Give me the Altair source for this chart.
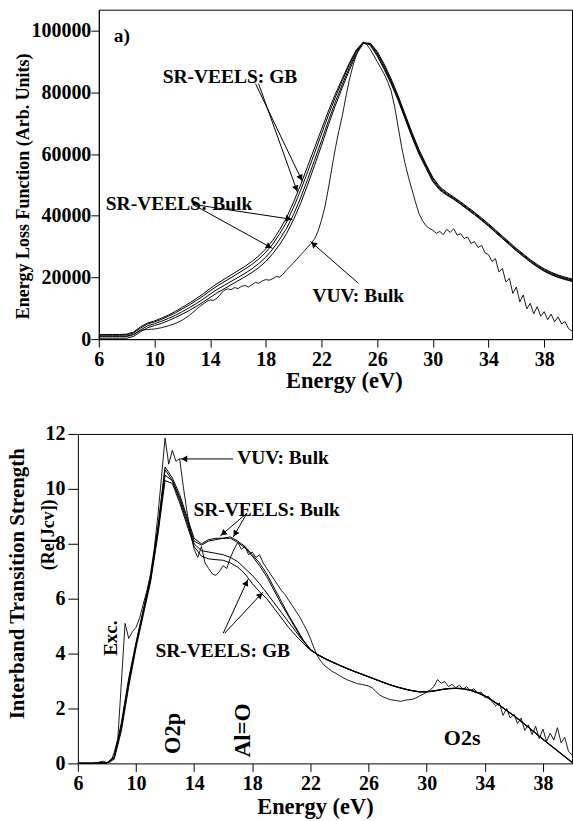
import math
import altair as alt
import pandas as pd

FONT = "Liberation Serif"

# ---------------- data ----------------
E_half = [6 + 0.5 * i for i in range(69)]        # 6 .. 40 eV
E_quarter = [6 + 0.25 * i for i in range(137)]   # 6 .. 40 eV

# (a) Energy loss function
elf_gb1 = [1500, 1500, 1500, 1500, 1600, 2300, 4000, 5200, 5900, 6800,
           7800, 9000, 10300, 11700, 13100, 14700, 16400, 18000, 19400, 20800,
           22200, 23600, 25200, 27000, 29300, 32000, 35500, 39500, 44500, 50000,
           56000, 62000, 68000, 74000, 79500, 84500, 89500, 93800, 96300, 95300,
           91800, 87500, 82800, 77500, 71500, 65500, 60000, 55500, 51000, 48300,
           46700, 45300, 43700, 42000, 40300, 38500, 36600, 34600, 32600, 30600,
           28600, 26800, 25000, 23400, 22000, 20900, 20000, 19300, 18700]
elf_gb2 = [1300, 1300, 1300, 1300, 1400, 2000, 3600, 4900, 5600, 6400,
           7400, 8500, 9800, 11100, 12500, 14000, 15700, 17200, 18600, 19900,
           21300, 22700, 24200, 26000, 28200, 30800, 34200, 38000, 42800, 48200,
           54200, 60300, 66500, 72700, 78500, 83800, 89000, 93500, 96200, 95500,
           92300, 88000, 83300, 78000, 72000, 66000, 60500, 56000, 51500, 48600,
           46900, 45500, 43900, 42200, 40500, 38700, 36800, 34800, 32800, 30800,
           28800, 27000, 25200, 23600, 22200, 21100, 20200, 19500, 18900]
elf_bulk1 = [1000, 1000, 1000, 1000, 1000, 1500, 3000, 4300, 5000, 5800,
             6700, 7700, 8900, 10200, 11500, 13000, 14600, 16100, 17400, 18700,
             20000, 21300, 22800, 24500, 26600, 29200, 32400, 36000, 40500, 45800,
             51800, 58000, 64300, 70800, 77000, 82600, 88000, 93000, 96000, 95800,
             92800, 88600, 83800, 78500, 72500, 66500, 61000, 56400, 52000, 49000,
             47200, 45800, 44200, 42500, 40800, 39000, 37100, 35100, 33100, 31100,
             29100, 27300, 25500, 23900, 22500, 21400, 20500, 19800, 19200]
elf_bulk2 = [300, 300, 300, 300, 300, 900, 2400, 3700, 4400, 5100,
             6000, 7000, 8100, 9300, 10600, 12000, 13500, 15000, 16300, 17600,
             18900, 20200, 21600, 23200, 25200, 27700, 30700, 34300, 38800, 44000,
             50000, 56300, 62800, 69500, 75800, 81600, 87200, 92400, 95800, 96000,
             93300, 89200, 84400, 79000, 73000, 67000, 61500, 56800, 52400, 49400,
             47600, 46100, 44500, 42800, 41100, 39300, 37400, 35400, 33400, 31400,
             29400, 27600, 25800, 24200, 22800, 21700, 20800, 20100, 19500]
elf_vuv = [800, 800, 800, 800, 800, 800, 800, 800,
           900, 1100, 1500, 2200, 2800, 3000, 3100, 3200,
           3300, 3500, 3700, 4000, 4300, 4700, 5100, 5600,
           6200, 6900, 7700, 8600, 9600, 10600, 11400, 12200,
           12700, 12600, 13300, 14600, 15800, 16300, 16000, 16700,
           16400, 17100, 17400, 16900, 17600, 18400, 18100, 18900,
           19300, 19100, 19600, 20300, 20100, 21100, 22500, 23600,
           24800, 26000, 27300, 28500, 29800, 31000, 32500, 35000,
           38500, 43000, 49000, 55500, 62000, 67500, 72500, 78500,
           84000, 88500, 92000, 94800, 96000, 95500, 94000, 92000,
           90000, 88000, 86000, 83500, 80500, 75500, 69000, 62500,
           57000, 52500, 48500, 44500, 40800, 38400, 36800, 35900,
           35300, 34300, 34900, 33900, 35600, 34600, 35800, 33700,
           34200, 32600, 33100, 31000, 31600, 29700, 30400, 28000,
           27400, 25200, 26100, 21800, 22900, 18500, 19700, 14800,
           16900, 12100, 14300, 9800, 11600, 8200, 10500, 7400,
           8900, 6300, 8100, 5600, 7200, 4900, 5700, 3400,
           2600]

# (b) Interband transition strength
its_bulk1 = [0, 0, 0, 0.02, 0.02, 0.25, 1.5, 3.1, 4.4, 5.6,
             6.8, 8.6, 10.8, 10.4, 9.8, 9.0, 8.2, 8.0, 8.15, 8.2,
             8.2, 8.25, 8.1, 7.9, 7.6, 7.3, 6.9, 6.4, 5.9, 5.4,
             4.95, 4.5, 4.15, 3.95, 3.8, 3.68, 3.57, 3.45, 3.35, 3.25,
             3.15, 3.05, 2.95, 2.85, 2.77, 2.7, 2.64, 2.6, 2.6, 2.63,
             2.68, 2.72, 2.73, 2.72, 2.67, 2.58, 2.46, 2.3, 2.12, 1.93,
             1.74, 1.53, 1.32, 1.1, 0.88, 0.67, 0.46, 0.25, 0.04]
its_bulk2 = [0, 0, 0, 0.02, 0.02, 0.22, 1.4, 3.0, 4.35, 5.55,
             6.7, 8.5, 10.7, 10.3, 9.7, 8.9, 8.1, 7.95, 8.1, 8.15,
             8.2, 8.2, 8.05, 7.85, 7.55, 7.2, 6.8, 6.3, 5.8, 5.35,
             4.9, 4.48, 4.15, 3.96, 3.82, 3.7, 3.58, 3.46, 3.36, 3.26,
             3.16, 3.06, 2.96, 2.86, 2.78, 2.71, 2.65, 2.61, 2.61, 2.64,
             2.69, 2.73, 2.74, 2.73, 2.68, 2.59, 2.47, 2.31, 2.13, 1.94,
             1.75, 1.54, 1.33, 1.11, 0.89, 0.68, 0.47, 0.26, 0.05]
its_gb1 = [0, 0, 0, 0.02, 0.02, 0.2, 1.3, 2.9, 4.3, 5.5,
           6.7, 8.4, 10.5, 10.3, 9.6, 8.8, 8.0, 7.75, 7.7, 7.65,
           7.6, 7.5, 7.35, 7.1, 6.85, 6.55, 6.2, 5.85, 5.5, 5.15,
           4.8, 4.45, 4.15, 3.97, 3.83, 3.7, 3.58, 3.47, 3.36, 3.26,
           3.16, 3.06, 2.96, 2.86, 2.78, 2.71, 2.65, 2.61, 2.61, 2.64,
           2.69, 2.72, 2.74, 2.72, 2.66, 2.57, 2.45, 2.29, 2.11, 1.92,
           1.73, 1.52, 1.31, 1.09, 0.87, 0.66, 0.45, 0.24, 0.03]
its_gb2 = [0, 0, 0, 0.02, 0.02, 0.15, 1.2, 2.8, 4.2, 5.4,
           6.6, 8.3, 10.3, 10.2, 9.5, 8.7, 7.9, 7.55, 7.45, 7.42,
           7.4, 7.3, 7.15, 6.9, 6.55, 6.25, 6.0, 5.65, 5.3, 4.95,
           4.65, 4.38, 4.12, 3.96, 3.82, 3.69, 3.57, 3.46, 3.35, 3.25,
           3.15, 3.05, 2.95, 2.86, 2.78, 2.71, 2.65, 2.61, 2.61, 2.64,
           2.69, 2.72, 2.73, 2.71, 2.66, 2.57, 2.45, 2.29, 2.11, 1.92,
           1.73, 1.52, 1.31, 1.09, 0.87, 0.66, 0.45, 0.24, 0.03]
its_vuv = [0.02, 0.02, 0.02, 0.02, 0.02, 0.02, 0.05, 0.08,
           0.02, 0.05, 0.4, 0.9, 3.0, 5.1, 4.55, 4.8,
           4.95, 5.3, 5.8, 6.3, 6.9, 7.8, 9.0, 10.4,
           11.85, 10.9, 11.4, 11.0, 11.1, 10.1, 9.2, 8.4,
           7.8, 7.5, 7.9, 7.3, 7.1, 6.9, 6.85, 7.0,
           7.2, 7.1, 7.5, 7.8, 8.05, 7.8, 7.9, 7.6,
           7.7, 7.5, 7.6, 7.3, 7.1, 6.9, 6.7, 6.5,
           6.3, 6.15, 5.95, 5.75, 5.55, 5.35, 5.1, 4.85,
           4.55, 4.2, 3.9, 3.7, 3.55, 3.45, 3.35, 3.28,
           3.2, 3.12, 3.05, 3.0, 2.95, 2.9, 2.88, 2.85,
           2.82, 2.75, 2.62, 2.5, 2.42, 2.37, 2.32, 2.3,
           2.28, 2.26, 2.3, 2.32, 2.33, 2.38, 2.45, 2.52,
           2.6, 2.68, 2.8, 3.05, 2.92, 2.98, 2.8, 2.88,
           2.75, 2.85, 2.7, 2.8, 2.65, 2.72, 2.55, 2.6,
           2.4, 2.45, 2.25, 2.1, 2.2, 1.75, 2.0, 1.65,
           1.8, 1.45, 1.65, 1.2, 1.4, 1.05, 1.35, 0.9,
           1.25, 0.8, 1.1, 0.85, 1.3, 0.75, 0.95, 0.45,
           0.3]

# annotations (data coordinates)
top_text_E = [7.08, 10.59, 6.5, 21.35]
top_text_v = [98400, 85100, 43700, 13900]
top_text_t = ["a)", "SR-VEELS: GB", "SR-VEELS: Bulk", "VUV: Bulk"]
top_arrows = [(17.26, 82800, 20.63, 51100), (17.48, 82800, 20.28, 47600),
              (12.74, 43700, 19.92, 38800), (12.74, 43700, 18.48, 29400),
              (24.65, 18100, 21.2, 31700)]

bot_text_E = [16.96, 13.95, 11.34]
bot_text_v = [11.12, 9.23, 4.08]
bot_text_t = ["VUV: Bulk", "SR-VEELS: Bulk", "SR-VEELS: GB"]
bot_rot_E = [8.26, 12.58, 17.37]
bot_rot_v = [4.56, 1.09, 1.2]
bot_rot_t = ["Exc.", "O2p", "Al=O"]
bot_rot_size = [19, 22.5, 23]
bot_arrows = [(16.68, 11.09, 13.05, 11.09),
              (17.64, 9.12, 15.79, 8.28), (17.64, 9.12, 16.68, 8.24),
              (16.0, 4.74, 17.71, 6.71), (16.1, 4.74, 18.74, 6.24)]

# ---------------- geometry ----------------
W_TOP, H_TOP = 474, 330
W_BOT, H_BOT = 474, 330
SHIFT_BOT = 21            # bottom plot starts further left than the top one
Y_TOP_MAX = 106800


def long_frame(energies, named):
    rows = []
    for name, vals in named:
        for e, v in zip(energies, vals):
            rows.append({"E": e, "v": v, "s": name})
    return pd.DataFrame(rows)


def arrow_frames(arrs, sx, sy):
    lines, heads = [], []
    for x1, y1, x2, y2 in arrs:
        dxp = (x2 - x1) * sx
        dyp = -(y2 - y1) * sy
        L = math.hypot(dxp, dyp)
        ux, uy = dxp / L, dyp / L
        ang = math.degrees(math.atan2(ux, -uy)) % 360
        back = 4.0
        lines.append({"E": x1, "v": y1, "E2": x2, "v2": y2})
        heads.append({"E": x2 - ux * back / sx, "v": y2 + uy * back / sy, "ang": ang})
    return pd.DataFrame(lines), pd.DataFrame(heads)


def x_axis():
    return alt.Axis(values=list(range(6, 41, 2)), format="d",
                    labelExpr="(datum.value - 6) % 4 == 0 ? datum.label : ''",
                    title=None, tickSize=8, labelPadding=2,
                    labelFlush=False, labelOverlap=False)


def text_layer(df, size, **kw):
    return alt.Chart(df).mark_text(font=FONT, fontWeight="bold", fontSize=size,
                                   color="black", **kw)


def title_layer(label, px, py, size, angle=0):
    kw = {"angle": angle} if angle else {}
    return text_layer(pd.DataFrame({"t": [label]}), size, align="center",
                      baseline="middle", **kw).encode(
        x=alt.value(px), y=alt.value(py), text="t:N")


# ---------------- top panel ----------------
sx_t, sy_t = W_TOP / 34.0, H_TOP / Y_TOP_MAX
xs_t = alt.Scale(domain=[6, 40], nice=False, zero=False)
ys_t = alt.Scale(domain=[0, Y_TOP_MAX], nice=False)

top_sr = long_frame(E_half, [("gb1", elf_gb1), ("gb2", elf_gb2),
                             ("bulk1", elf_bulk1), ("bulk2", elf_bulk2)])
top_vuv = pd.DataFrame({"E": E_quarter, "v": elf_vuv})

t_lines = alt.Chart(top_sr).mark_line(color="black", strokeWidth=1).encode(
    x=alt.X("E:Q", scale=xs_t, axis=x_axis()),
    y=alt.Y("v:Q", scale=ys_t, axis=alt.Axis(
        values=list(range(0, 100001, 10000)), format="d",
        labelExpr="datum.value % 20000 == 0 ? datum.label : ''",
        tickSize=8, labelPadding=0, title=None)),
    detail="s:N")
t_vuv = alt.Chart(top_vuv).mark_line(color="black", strokeWidth=0.9).encode(x="E:Q", y="v:Q")
t_text = text_layer(pd.DataFrame({"E": top_text_E, "v": top_text_v, "t": top_text_t}), 19.5,
                    align="left", baseline="middle").encode(x="E:Q", y="v:Q", text="t:N")
tl, th = arrow_frames(top_arrows, sx_t, sy_t)
t_rules = alt.Chart(tl).mark_rule(color="black", strokeWidth=1).encode(
    x="E:Q", y="v:Q", x2="E2:Q", y2="v2:Q")
t_heads = alt.Chart(th).mark_point(shape="triangle-up", filled=True, size=45, color="black",
                                   opacity=1).encode(
    x="E:Q", y="v:Q", angle=alt.Angle("ang:Q", scale=None))
t_ytitle = title_layer("Energy Loss Function (Arb. Units)", -75, 177, 18, angle=270)
t_xtitle = title_layer("Energy (eV)", 246, H_TOP + 42, 22.5)
top = alt.layer(t_lines, t_vuv, t_rules, t_heads, t_text, t_ytitle, t_xtitle).properties(
    width=W_TOP, height=H_TOP)

# ---------------- bottom panel ----------------
sx_b, sy_b = (W_BOT + SHIFT_BOT) / 34.0, H_BOT / 12.0
xs_b = alt.Scale(domain=[6, 40], range=[-SHIFT_BOT, W_BOT], nice=False, zero=False)
ys_b = alt.Scale(domain=[0, 12], nice=False)

bot_sr = long_frame(E_half, [("bulk1", its_bulk1), ("bulk2", its_bulk2),
                             ("gb1", its_gb1), ("gb2", its_gb2)])
bot_vuv = pd.DataFrame({"E": E_quarter, "v": its_vuv})

b_lines = alt.Chart(bot_sr).mark_line(color="black", strokeWidth=1).encode(
    x=alt.X("E:Q", scale=xs_b, axis=x_axis()),
    y=alt.Y("v:Q", scale=ys_b, axis=alt.Axis(
        values=list(range(0, 13)), format="d", offset=SHIFT_BOT,
        labelExpr="datum.value % 2 == 0 ? datum.label : ''",
        tickSize=10, labelPadding=3, title=None)),
    detail="s:N")
b_vuv = alt.Chart(bot_vuv).mark_line(color="black", strokeWidth=0.9).encode(x="E:Q", y="v:Q")
b_text = text_layer(pd.DataFrame({"E": bot_text_E, "v": bot_text_v, "t": bot_text_t}), 19.5,
                    align="left", baseline="middle").encode(x="E:Q", y="v:Q", text="t:N")
b_rot = alt.Chart(pd.DataFrame({"E": bot_rot_E, "v": bot_rot_v, "t": bot_rot_t,
                                "fs": bot_rot_size})).mark_text(
    align="center", baseline="middle", angle=270, font=FONT, fontWeight="bold",
    color="black").encode(x="E:Q", y="v:Q", text="t:N", size=alt.Size("fs:Q", scale=None))
b_o2s = text_layer(pd.DataFrame({"E": [32.44], "v": [0.91], "t": ["O2s"]}), 22,
                   align="center", baseline="middle").encode(x="E:Q", y="v:Q", text="t:N")
b_ytitle1 = title_layer("Interband Transition Strength", -80.5, 150, 21, angle=270)
b_ytitle2 = title_layer("(Re[Jcv])", -49.5, 101, 18, angle=270)
b_xtitle = title_layer("Energy (eV)", 217, H_BOT + 44, 22.5)
bl, bh = arrow_frames(bot_arrows, sx_b, sy_b)
b_rules = alt.Chart(bl).mark_rule(color="black", strokeWidth=1).encode(
    x="E:Q", y="v:Q", x2="E2:Q", y2="v2:Q")
b_heads = alt.Chart(bh).mark_point(shape="triangle-up", filled=True, size=45, color="black",
                                   opacity=1).encode(
    x="E:Q", y="v:Q", angle=alt.Angle("ang:Q", scale=None))
b_inner = alt.layer(b_lines, b_vuv, b_rules, b_heads, b_text, b_rot, b_o2s,
                    b_ytitle1, b_ytitle2, b_xtitle)
b_frame = alt.Chart(pd.DataFrame({"E": [6], "v": [0]})).mark_point(opacity=0, size=1).encode(
    x=alt.X("E:Q", scale=xs_b, axis=alt.Axis(orient="top", labels=False, ticks=False,
                                             title=None, domainColor="black")),
    y=alt.Y("v:Q", scale=ys_b, axis=alt.Axis(orient="right", labels=False, ticks=False,
                                             title=None, domainColor="black")))
bottom = alt.layer(b_inner, b_frame).resolve_axis(x="independent", y="independent").properties(
    width=W_BOT, height=H_BOT, view=alt.ViewBackground(stroke="transparent"))

chart = alt.ConcatChart(concat=[top, bottom], columns=1, spacing=30).properties(
    padding={"left": 7, "top": 8, "right": -21, "bottom": 0},
    background="white",
).configure_view(stroke="black", strokeWidth=1).configure_axis(
    domainColor="black", tickColor="black", labelColor="black", titleColor="black",
    labelFont=FONT, titleFont=FONT, labelFontWeight="bold", titleFontWeight="bold",
    labelFontSize=20, grid=False, domainWidth=1, tickWidth=1)

chart.save("out.html", embed_options={"renderer": "svg", "actions": False})
